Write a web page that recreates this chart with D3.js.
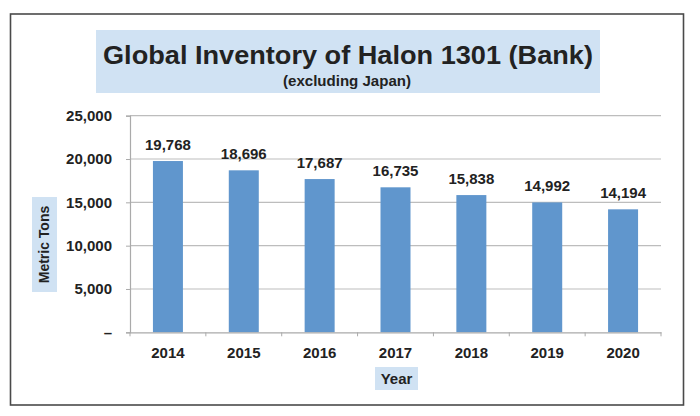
<!DOCTYPE html>
<html><head><meta charset="utf-8">
<script src="https://cdn.jsdelivr.net/npm/d3@7"></script>
<style>
body{margin:0;background:#fff;}
text{font-family:"Liberation Sans",Arial,Helvetica,sans-serif;}
</style></head>
<body>
<svg id="c" width="700" height="416"></svg>
<script>
const categories = ["2014","2015","2016","2017","2018","2019","2020"];
const values = [19768, 18696, 17687, 16735, 15838, 14992, 14194];
const yTicks = [0, 5000, 10000, 15000, 20000, 25000];
const titleText = "Global Inventory of Halon 1301 (Bank)";
const subtitleText = "(excluding Japan)";
const yLabel = "Metric Tons";
const xLabel = "Year";

(function(){
const svg = d3.select("#c");
const ff = "'Liberation Sans',Arial,sans-serif";
// outer frame
svg.append("rect").attr("x",10.5).attr("y",14).attr("width",673).attr("height",391)
  .attr("fill","#fff").attr("stroke","#4a4a4a").attr("stroke-width",1.6);

// title box
svg.append("rect").attr("x",96).attr("y",30).attr("width",504).attr("height",63).attr("fill","#d0e2f3");
svg.append("text").attr("x",348).attr("y",63.5).attr("text-anchor","middle")
  .attr("font-size",25).attr("font-weight","bold").attr("fill","#222").text(titleText)
  .attr("textLength",490).attr("lengthAdjust","spacingAndGlyphs");
svg.append("text").attr("x",347).attr("y",86).attr("text-anchor","middle")
  .attr("font-size",14).attr("font-weight","bold").attr("fill","#222").text(subtitleText)
  .attr("textLength",128).attr("lengthAdjust","spacingAndGlyphs");

const pL=130, pR=661, pT=115.7, pB=332.3;
const xb = d3.scaleBand().domain(categories).range([pL,pR]);
const y = d3.scaleLinear().domain([0,25000]).range([pB,pT]);

// gridlines
svg.append("g").selectAll("line").data(yTicks.filter(d=>d>0)).join("line")
  .attr("x1",pL).attr("x2",pR).attr("y1",d=>y(d)).attr("y2",d=>y(d))
  .attr("stroke","#bdbdbd").attr("stroke-width",1.2);

// y axis
const yAxis = d3.axisLeft(y).tickValues(yTicks).tickSize(4)
  .tickFormat(d=> d===0 ? "\u2013" : d3.format(",")(d));
const ya = svg.append("g").attr("transform",`translate(${pL},0)`).call(yAxis);
ya.select(".domain").attr("stroke","#aaa").attr("stroke-width",1.2);
ya.selectAll(".tick line").attr("stroke","#aaa");
ya.selectAll(".tick text").attr("x",-18).attr("font-size",15).attr("font-weight","bold")
  .attr("fill","#222").style("font-family",ff);

// bars
svg.append("g").selectAll("rect").data(values).join("rect")
  .attr("x",(d,i)=>xb(categories[i])+xb.bandwidth()/2-15)
  .attr("width",30)
  .attr("y",d=>y(d)).attr("height",d=>pB-y(d))
  .attr("fill","#6096cd");

// x axis
const xAxis = d3.axisBottom(xb).tickSize(0).tickFormat(d=>d);
const xa = svg.append("g").attr("transform",`translate(0,${pB})`).call(xAxis);
xa.select(".domain").attr("stroke","#aaa").attr("stroke-width",1.2);
xa.selectAll(".tick text").attr("y",15).attr("font-size",15).attr("font-weight","bold")
  .attr("fill","#222").style("font-family",ff);
const seps = categories.map(c=>xb(c)).concat([pR]);
xa.append("g").selectAll("line").data(seps).join("line")
  .attr("x1",d=>d).attr("x2",d=>d).attr("y1",0).attr("y2",4).attr("stroke","#aaa");

// data labels
svg.append("g").selectAll("text").data(values).join("text")
  .attr("x",(d,i)=>xb(categories[i])+xb.bandwidth()/2)
  .attr("y",d=>y(d)-11)
  .attr("text-anchor","middle").attr("font-size",15).attr("font-weight","bold").attr("fill","#222")
  .text(d=>d3.format(",")(d));

// y label
svg.append("rect").attr("x",32).attr("y",197).attr("width",25).attr("height",95).attr("fill","#d0e2f3");
svg.append("text").attr("transform","translate(49,244.5) rotate(-90)").attr("text-anchor","middle")
  .attr("font-size",14).attr("font-weight","bold").attr("fill","#222").text(yLabel);

// x label
svg.append("rect").attr("x",375).attr("y",367).attr("width",43).attr("height",23).attr("fill","#d0e2f3");
svg.append("text").attr("x",396.5).attr("y",383.5).attr("text-anchor","middle")
  .attr("font-size",15).attr("font-weight","bold").attr("fill","#222").text(xLabel);
})();
</script>
</body></html>
